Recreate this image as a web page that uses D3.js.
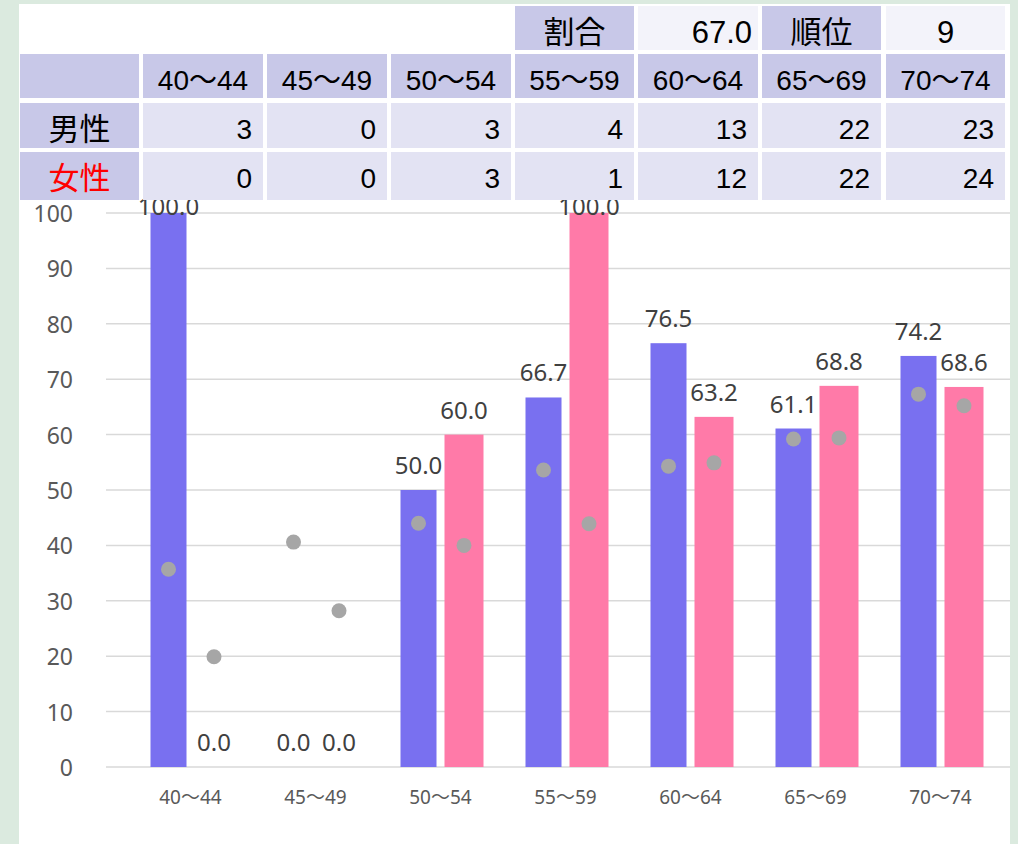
<!DOCTYPE html>
<html>
<head>
<meta charset="utf-8">
<script src="https://cdn.jsdelivr.net/npm/d3@7"></script>
<style>
  body { margin: 0; background: #dbeadf; }
  svg { display: block; }
</style>
</head>
<body>
<script>
/* ----------------------------- Data ----------------------------- */
const ageGroups = ["40～44", "45～49", "50～54", "55～59", "60～64", "65～69", "70～74"];
const maleCount = [3, 0, 3, 4, 13, 22, 23];
const femaleCount = [0, 0, 3, 1, 12, 22, 24];
const maleRate = [100.0, 0.0, 50.0, 66.7, 76.5, 61.1, 74.2];
const femaleRate = [0.0, 0.0, 60.0, 100.0, 63.2, 68.8, 68.6];
const maleAvg = [35.7, 40.6, 44.0, 53.6, 54.3, 59.2, 67.3];
const femaleAvg = [19.9, 28.2, 40.0, 43.9, 54.9, 59.4, 65.2];
const yTicks = [0, 10, 20, 30, 40, 50, 60, 70, 80, 90, 100];
const ratioLabel = "割合", ratioValue = "67.0";
const rankLabel = "順位", rankValue = "9";

/* ----------------------------- Layout ----------------------------- */
const W = 1018, H = 844;
const maleColor = "#7970f0", femaleColor = "#ff7aa8", dotColor = "#a6a6a6";
const headColor = "#c8c8e8", cellColor = "#e3e3f3", lightCell = "#f3f3fa";
const tableFont = "'Liberation Sans', Arial, 'Noto Sans CJK JP', sans-serif";
const chartFont = "'Noto Sans', 'Open Sans', 'Noto Sans CJK JP', sans-serif";

const svg = d3.select("body").append("svg").attr("width", W).attr("height", H);

// white panel
svg.append("rect").attr("x", 19).attr("y", 4).attr("width", 991).attr("height", H - 4).attr("fill", "#fff");

const x = d3.scaleBand().domain(ageGroups).range([128, 1003]);
const y = d3.scaleLinear().domain([0, 100]).range([767, 213]);
const maleW = 36, femaleW = 39, gap = 4;

/* ----------------------------- Grid + axis ----------------------------- */
svg.append("g")
  .selectAll("line").data(yTicks).enter().append("line")
  .attr("x1", 106).attr("x2", 1010)
  .attr("y1", d => y(d)).attr("y2", d => y(d))
  .attr("stroke", "#d9d9d9").attr("stroke-width", 1.5);

svg.append("g")
  .selectAll("text").data(yTicks).enter().append("text")
  .attr("x", 73).attr("y", d => y(d))
  .attr("text-anchor", "end").attr("dominant-baseline", "central")
  .attr("font-family", chartFont).attr("font-size", "23px").attr("fill", "#595959")
  .text(d => d);

svg.append("g")
  .selectAll("text").data(ageGroups).enter().append("text")
  .attr("x", d => x(d) + x.bandwidth() / 2).attr("y", 804)
  .attr("text-anchor", "middle")
  .attr("font-family", chartFont).attr("font-size", "19px").attr("fill", "#595959")
  .text(d => d);

/* ----------------------------- Bars ----------------------------- */
const mid = d => x(d) + x.bandwidth() / 2;
const maleX = (d, i) => mid(ageGroups[i]) - gap - maleW;
const femaleX = (d, i) => mid(ageGroups[i]) + gap;

svg.append("g").selectAll("rect").data(maleRate).enter().append("rect")
  .attr("x", maleX).attr("y", d => y(d))
  .attr("width", maleW).attr("height", d => y(0) - y(d))
  .attr("fill", maleColor);

svg.append("g").selectAll("rect").data(femaleRate).enter().append("rect")
  .attr("x", femaleX).attr("y", d => y(d))
  .attr("width", femaleW).attr("height", d => y(0) - y(d))
  .attr("fill", femaleColor);

// average dots
svg.append("g").selectAll("circle").data(maleAvg).enter().append("circle")
  .attr("cx", (d, i) => maleX(d, i) + maleW / 2).attr("cy", d => y(d))
  .attr("r", 7.5).attr("fill", dotColor);

svg.append("g").selectAll("circle").data(femaleAvg).enter().append("circle")
  .attr("cx", (d, i) => femaleX(d, i) + femaleW / 2).attr("cy", d => y(d))
  .attr("r", 7.5).attr("fill", dotColor);

// value labels
const labelY = d => Math.max(y(d) - 16, 215);
const labelStyle = sel => sel
  .attr("text-anchor", "middle")
  .attr("font-family", chartFont).attr("font-size", "24px").attr("fill", "#404040");

svg.append("g").selectAll("text").data(maleRate).enter().append("text")
  .attr("x", (d, i) => maleX(d, i) + maleW / 2).attr("y", labelY)
  .call(labelStyle).text(d => d.toFixed(1));

svg.append("g").selectAll("text").data(femaleRate).enter().append("text")
  .attr("x", (d, i) => femaleX(d, i) + femaleW / 2).attr("y", labelY)
  .call(labelStyle).text(d => d.toFixed(1));

/* ----------------------------- Table ----------------------------- */
const colX = [20, 143, 267, 391, 515, 638, 762, 886];
const colW = [119, 120, 120, 120, 119, 120, 119, 119];
const rowY = [6, 54, 103, 152];
const rowH = [44, 44, 45, 48];
const table = svg.append("g").attr("font-family", tableFont);

function cell(c, r, fill, txt, anchor, opts = {}) {
  table.append("rect").attr("x", colX[c]).attr("y", rowY[r])
    .attr("width", colW[c]).attr("height", rowH[r]).attr("fill", fill);
  if (txt === undefined) return;
  const pad = opts.pad || 11;
  const tx = anchor === "end" ? colX[c] + colW[c] - pad : colX[c] + colW[c] / 2;
  table.append("text").attr("x", tx).attr("y", rowY[r] + 26)
    .attr("text-anchor", anchor).attr("dominant-baseline", "central")
    .attr("font-size", opts.size || "28px").attr("fill", opts.color || "#000")
    .text(txt);
}

// row 1
cell(4, 0, headColor, ratioLabel, "middle", { size: "31px" });
cell(5, 0, lightCell, ratioValue, "end", { pad: 6, size: "31px" });
cell(6, 0, headColor, rankLabel, "middle", { size: "31px" });
cell(7, 0, lightCell, rankValue, "middle", { size: "31px" });
// row 2
cell(0, 1, headColor);
ageGroups.forEach((g, i) => cell(i + 1, 1, headColor, g, "middle"));
// row 3, 4
cell(0, 2, headColor, "男性", "middle", { size: "31px" });
maleCount.forEach((v, i) => cell(i + 1, 2, cellColor, v, "end"));
cell(0, 3, headColor, "女性", "middle", { size: "31px", color: "#ff0000" });
femaleCount.forEach((v, i) => cell(i + 1, 3, cellColor, v, "end"));
</script>
</body>
</html>
